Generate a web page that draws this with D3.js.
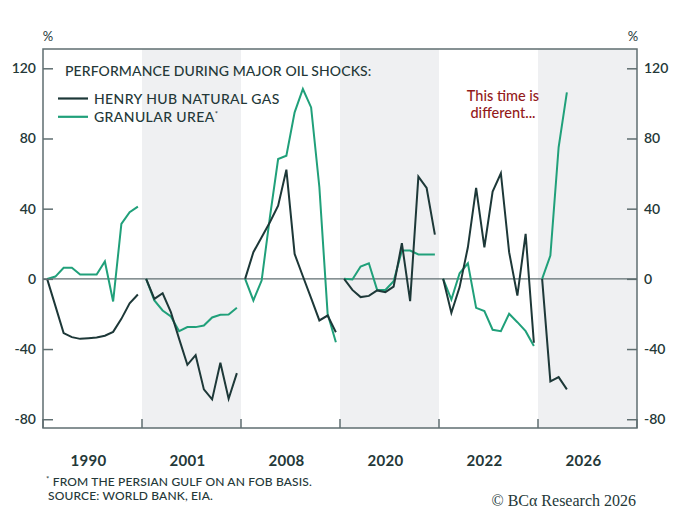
<!DOCTYPE html>
<html>
<head>
<meta charset="utf-8">
<script src="https://cdn.jsdelivr.net/npm/d3@7.9.0/dist/d3.min.js"></script>
<style>
  body { margin: 0; background: #fff; }
  svg { display: block; font-family: Lato, "Noto Sans", sans-serif; }
</style>
</head>
<body>
<svg id="chart" width="680" height="510"></svg>
<script>
// one panel per oil shock, 12 monthly slots each
const episodes = ['1990', '2001', '2008', '2020', '2022', '2026'];
const shaded = ['2001', '2020', '2026'];
const slots = 12;

const henryHub = [
  [0, -15.4, -30.9, -33.2, -34.2, -33.8, -33.4, -32.4, -30.2, -22.8, -13.9, -8.9],
  [0, -11.4, -8.2, -19, -34.2, -49, -43.5, -63, -68.7, -47.8, -68.3, -53.7],
  [0, 15.2, 23.7, 32.3, 41.7, 62.2, 14.2, 1.5, -11, -23.7, -20.9, -30.4],
  [0, -6.3, -10.4, -9.7, -6.6, -7.6, -4.4, 20.3, -12.7, 58.3, 51.8, 25.2],
  [0, -19.4, -4.7, 18, 51.8, 18, 49.7, 60.2, 15.2, -9.5, 25.6, -36.4],
  [0, -58.4, -56, -63]
];

const urea = [
  [0, 1.3, 6.3, 6.3, 2.5, 2.5, 2.5, 9.9, -12.9, 31.3, 38, 41.2],
  [0, -12.3, -18, -21.4, -29.8, -27.5, -27.5, -26.6, -22, -20.5, -20.3, -16.5],
  [0, -12.3, -1, 35.1, 68.3, 70.2, 94.9, 108.2, 97.7, 52.2, -19.9, -36.1],
  [0, -0.4, 7, 8.9, -6.3, -6.3, -1.3, 16.1, 16.1, 13.9, 13.9, 13.9],
  [0, -11.8, 3.2, 8.9, -16.5, -18.4, -29, -29.8, -19.9, -24.7, -29.8, -38.3],
  [0, 13.3, 75, 106.3]
];

const yTicks = [120, 80, 40, 0, -40, -80];

const gasColor = '#1d3838';
const ureaColor = '#20a07a';
const axisColor = '#5f6e70';
const textColor = '#243838';

const svg = d3.select('#chart');
const plotL = 43, plotR = 637, plotT = 49, plotB = 428;

const x = d3.scaleBand().domain(episodes).range([plotL, plotR]);
const inner = d3.scaleBand().domain(d3.range(slots)).range([0, x.bandwidth()]);
const y = d3.scaleLinear().domain([-85, 131]).range([plotB, plotT]);

// shaded panels
svg.append('g').selectAll('rect')
  .data(episodes.filter(e => shaded.includes(e)))
  .join('rect')
  .attr('x', d => x(d))
  .attr('y', plotT)
  .attr('width', x.bandwidth())
  .attr('height', plotB - plotT)
  .attr('fill', '#eff0f2');

// zero line
svg.append('line')
  .attr('x1', plotL).attr('x2', plotR)
  .attr('y1', y(0)).attr('y2', y(0))
  .attr('stroke', axisColor).attr('stroke-width', 1.2);

// series
const line = (ep) => d3.line()
  .x((d, i) => x(ep) + inner(i) + inner.bandwidth() / 2)
  .y(d => y(d));

episodes.forEach((ep, k) => {
  svg.append('path')
    .attr('d', line(ep)(urea[k]))
    .attr('fill', 'none')
    .attr('stroke', ureaColor)
    .attr('stroke-width', 2)
    .attr('stroke-linejoin', 'miter');
  svg.append('path')
    .attr('d', line(ep)(henryHub[k]))
    .attr('fill', 'none')
    .attr('stroke', gasColor)
    .attr('stroke-width', 2)
    .attr('stroke-linejoin', 'miter');
});

// frame
svg.append('rect')
  .attr('x', plotL).attr('y', plotT)
  .attr('width', plotR - plotL).attr('height', plotB - plotT)
  .attr('fill', 'none')
  .attr('stroke', axisColor).attr('stroke-width', 1.5);

// y axes, ticks pointing inward
const leftAxis = svg.append('g')
  .attr('transform', `translate(${plotL},0)`)
  .call(d3.axisRight(y).tickValues(yTicks).tickSize(10).tickFormat(''));
const rightAxis = svg.append('g')
  .attr('transform', `translate(${plotR},0)`)
  .call(d3.axisLeft(y).tickValues(yTicks).tickSize(10).tickFormat(''));
[leftAxis, rightAxis].forEach(g => {
  g.select('.domain').remove();
  g.selectAll('line').attr('stroke', axisColor).attr('stroke-width', 1.5);
});

svg.append('g').selectAll('text')
  .data(yTicks)
  .join('text')
  .attr('x', 36).attr('y', d => y(d))
  .attr('dy', '0.35em')
  .attr('text-anchor', 'end')
  .attr('font-size', 14).attr('font-weight', 600)
  .attr('fill', textColor)
  .text(d => d);
svg.append('g').selectAll('text')
  .data(yTicks)
  .join('text')
  .attr('x', 644).attr('y', d => y(d))
  .attr('dy', '0.35em')
  .attr('font-size', 14).attr('font-weight', 600)
  .attr('fill', textColor)
  .text(d => d);

svg.append('text').attr('x', 48).attr('y', 41)
  .attr('text-anchor', 'middle').attr('font-size', 13).attr('fill', textColor).text('%');
svg.append('text').attr('x', 633).attr('y', 41)
  .attr('text-anchor', 'middle').attr('font-size', 13).attr('fill', textColor).text('%');

// bottom ticks at panel edges
svg.append('g').selectAll('line')
  .data(episodes.map(e => x(e)).concat([plotR]))
  .join('line')
  .attr('x1', d => d).attr('x2', d => d)
  .attr('y1', plotB).attr('y2', plotB - 9)
  .attr('stroke', axisColor).attr('stroke-width', 1.5);

// panel labels
svg.append('g').selectAll('text')
  .data(episodes)
  .join('text')
  .attr('x', d => x(d) + x.bandwidth() / 2 - 4)
  .attr('y', 466)
  .attr('text-anchor', 'middle')
  .attr('font-size', 15).attr('font-weight', 700)
  .attr('letter-spacing', 0.3)
  .attr('fill', textColor)
  .text(d => d);

// title and legend
svg.append('text')
  .attr('x', 65).attr('y', 76)
  .attr('font-size', 14).attr('font-weight', 500)
  .attr('letter-spacing', 0.1)
  .attr('fill', textColor)
  .text('PERFORMANCE DURING MAJOR OIL SHOCKS:');

const legendItems = [
  { label: 'HENRY HUB NATURAL GAS', color: gasColor, sup: '' },
  { label: 'GRANULAR UREA', color: ureaColor, sup: '*' }
];
legendItems.forEach((d, i) => {
  const ly = 98.5 + i * 18.3;
  svg.append('line')
    .attr('x1', 58).attr('x2', 88)
    .attr('y1', ly).attr('y2', ly)
    .attr('stroke', d.color).attr('stroke-width', 2.2);
  const t = svg.append('text')
    .attr('x', 94).attr('y', ly + 5)
    .attr('font-size', 14).attr('font-weight', 500)
    .attr('letter-spacing', 0.4)
    .attr('fill', textColor)
    .text(d.label);
  if (d.sup) {
    t.append('tspan').attr('font-size', 8).attr('dy', -5).text(d.sup);
  }
});

// annotation
const note = svg.append('text')
  .attr('x', 503).attr('y', 101)
  .attr('text-anchor', 'middle')
  .attr('font-size', 14.5).attr('font-weight', 500)
  .attr('fill', '#931a1a');
note.append('tspan').attr('x', 503).text('This time is');
note.append('tspan').attr('x', 503).attr('dy', 17).text('different...');

// footnotes
const foot = svg.append('text')
  .attr('x', 46).attr('y', 486)
  .attr('font-size', 12).attr('font-weight', 500)
  .attr('letter-spacing', 0.15)
  .attr('fill', textColor);
foot.append('tspan').attr('font-size', 8).attr('dy', -4).text('*');
foot.append('tspan').attr('dy', 4).text(' FROM THE PERSIAN GULF ON AN FOB BASIS.');
svg.append('text')
  .attr('x', 48).attr('y', 500)
  .attr('font-size', 12).attr('font-weight', 500)
  .attr('letter-spacing', 0.15)
  .attr('fill', textColor)
  .text('SOURCE: WORLD BANK, EIA.');

svg.append('text')
  .attr('x', 636).attr('y', 506)
  .attr('text-anchor', 'end')
  .attr('font-family', '"Liberation Serif", "DejaVu Serif", serif')
  .attr('font-size', 16)
  .attr('fill', textColor)
  .text('© BCα Research 2026');
</script>
</body>
</html>
